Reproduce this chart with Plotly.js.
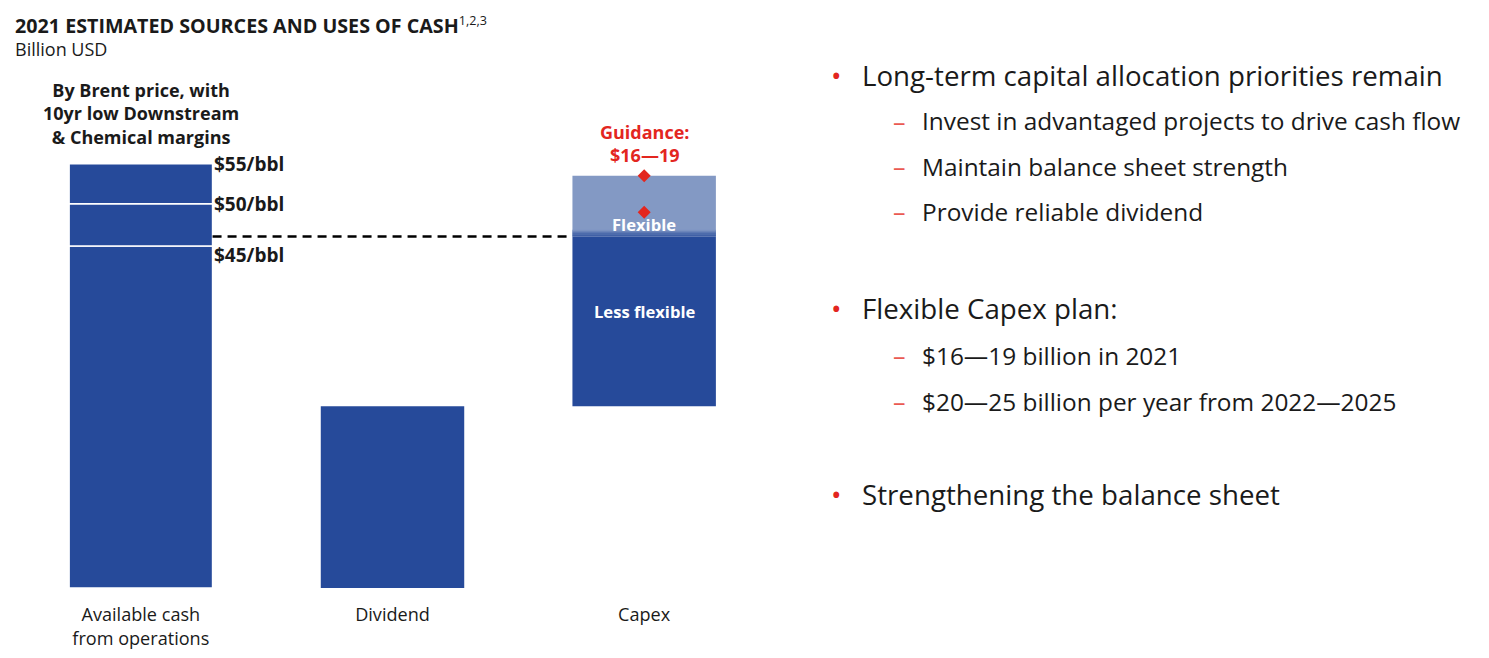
<!DOCTYPE html>
<html>
<head>
<meta charset="utf-8">
<script src="https://cdn.plot.ly/plotly-3.0.1.min.js"></script>
<style>
  html, body { margin: 0; padding: 0; background: #fff; }
  #chart { width: 1489px; height: 658px; }
</style>
</head>
<body>
<div id="chart"></div>
<script>
// ---- data ----
const categories = ['Available cash<br>from operations', 'Dividend', 'Capex'];
const cashLevels = [28.2, 31.7, 35.0];           // available cash at each Brent price
const priceLabels = ['$45/bbl', '$50/bbl', '$55/bbl'];
const dividend = [15.0];
const capexLessFlexible = [14.0];
const capexFlexible = [5.0];
const guidance = [16, 19];                       // capex guidance range
const bullets = [
  {text: 'Long-term capital allocation priorities remain', level: 0},
  {text: 'Invest in advantaged projects to drive cash flow', level: 1},
  {text: 'Maintain balance sheet strength', level: 1},
  {text: 'Provide reliable dividend', level: 1},
  {text: 'Flexible Capex plan:', level: 0},
  {text: '$16\u201419 billion in 2021', level: 1},
  {text: '$20\u201425 billion per year from 2022\u20142025', level: 1},
  {text: 'Strengthening the balance sheet', level: 0}
];
const bulletRows = [75, 121, 166, 211, 308, 355, 401, 494];

// ---- style ----
const BLUE = '#264a9a';
const LIGHT = '#8399c4';
const RED = '#e3261f';
const TXT = '#1a1a1a';
const FONT = '"Open Sans", "Noto Sans", sans-serif';
const BW = 0.57;

const W = 1489, H = 658;
const M = {l: 15, r: 719, t: 103, b: 70};
const PW = W - M.l - M.r, PH = H - M.t - M.b;
const px2x = px => (px - M.l) / PW;
const px2y = py => (H - M.b - py) / PH;

const traces = [];
// available cash stacked segments
cashLevels.forEach((lvl, i) => {
  const base = i === 0 ? 0 : cashLevels[i - 1];
  traces.push({
    type: 'bar', x: [categories[0]], y: [lvl - base], base: [base],
    width: BW, marker: {color: BLUE, line: {color: '#ffffff', width: 1.5}},
    hoverinfo: 'skip', showlegend: false
  });
});
// dividend
traces.push({
  type: 'bar', x: [categories[1]], y: dividend, base: [0], width: BW,
  marker: {color: BLUE, line: {width: 0}}, hoverinfo: 'skip', showlegend: false
});
// capex less flexible
traces.push({
  type: 'bar', x: [categories[2]], y: capexLessFlexible, base: [dividend[0]], width: BW,
  marker: {color: BLUE, line: {width: 0}}, hoverinfo: 'skip', showlegend: false
});
// capex flexible
traces.push({
  type: 'bar', x: [categories[2]], y: capexFlexible, base: [dividend[0] + capexLessFlexible[0]], width: BW,
  marker: {color: LIGHT, line: {width: 0}}, hoverinfo: 'skip', showlegend: false
});

const lessTop = dividend[0] + capexLessFlexible[0];

// soft gradient band at the bottom of the flexible part (layout decoration)
const shapes = [];
const hex = c => [1, 3, 5].map(i => parseInt(c.substr(i, 2), 16));
const c1 = hex(BLUE), c2 = hex(LIGHT);
const nBand = 6, bandH = 0.09;
for (let k = 0; k < nBand; k++) {
  const t = (k + 0.5) / nBand;
  const col = 'rgb(' + c1.map((v, j) => Math.round(v + (c2[j] - v) * t)).join(',') + ')';
  shapes.push({
    type: 'rect', xref: 'x', yref: 'y', layer: 'above',
    x0: 2 - BW / 2, x1: 2 + BW / 2, y0: lessTop + k * bandH, y1: lessTop + (k + 1) * bandH,
    fillcolor: col, line: {width: 0}
  });
}
shapes.push({
  type: 'line', xref: 'x', yref: 'y', x0: BW / 2, x1: 2 - BW / 2, y0: lessTop, y1: lessTop,
  line: {color: '#000000', width: 2.5, dash: '9px,6px'}
});

// guidance diamonds
traces.push({
  type: 'scatter', mode: 'markers', x: guidance.map(() => categories[2]),
  y: guidance.map(g => dividend[0] + g),
  marker: {symbol: 'diamond', size: 10, color: RED}, hoverinfo: 'skip', showlegend: false
});

const annotations = [];
// title + unit (one block so the lines keep their spacing)
annotations.push({
  xref: 'paper', yref: 'paper', x: px2x(13), y: px2y(36.5), xanchor: 'left', yanchor: 'middle',
  align: 'left',
  text: '<span style="font-size:19.7px"><b>2021 ESTIMATED SOURCES AND USES OF CASH</b></span><sup>1,2,3</sup><br>Billion USD',
  showarrow: false,
  font: {family: FONT, size: 18, color: TXT}
});
// header over first bar
annotations.push({
  xref: 'x', yref: 'paper', x: 0, y: px2y(113), xanchor: 'center', yanchor: 'middle',
  text: '<b>By Brent price, with<br>10yr low Downstream<br>&amp; Chemical margins</b>',
  showarrow: false, align: 'center', font: {family: FONT, size: 18, color: TXT}
});
// price labels
const priceShift = [-9, 0, 0];
cashLevels.forEach((lvl, i) => {
  annotations.push({
    xref: 'x', yref: 'y', x: BW / 2, y: lvl, xanchor: 'left', yanchor: 'middle',
    xshift: -1, yshift: priceShift[i],
    text: '<b>' + priceLabels[i] + '</b>', showarrow: false,
    font: {family: FONT, size: 19, color: TXT}
  });
});
// guidance label
annotations.push({
  xref: 'x', yref: 'paper', x: 2, y: px2y(143), xanchor: 'center', yanchor: 'middle',
  text: '<b>Guidance:<br>$' + guidance[0] + '\u2014' + guidance[1] + '</b>', showarrow: false,
  font: {family: FONT, size: 18, color: RED}
});
// flexible labels
annotations.push({
  xref: 'x', yref: 'y', x: 2, y: lessTop, xanchor: 'center', yanchor: 'bottom', yshift: -2,
  text: '<b>Flexible</b>', showarrow: false, font: {family: FONT, size: 16.6, color: '#ffffff'}
});
annotations.push({
  xref: 'x', yref: 'y', x: 2, y: dividend[0] + capexLessFlexible[0] / 2 + 0.8, xanchor: 'center', yanchor: 'middle',
  text: '<b>Less flexible</b>', showarrow: false, font: {family: FONT, size: 16.6, color: '#ffffff'}
});
// right-side bullets
bullets.forEach((b, i) => {
  const py = bulletRows[i];
  const markX = b.level === 0 ? 829 : 891;
  const textX = b.level === 0 ? 860 : 920;
  annotations.push({
    xref: 'paper', yref: 'paper', x: px2x(markX), y: px2y(py), xanchor: 'left', yanchor: 'middle',
    text: b.level === 0 ? '\u2022' : '\u2013', showarrow: false,
    font: {family: FONT, size: b.level === 0 ? 28 : 25, color: b.level === 0 ? RED : '#ea5a52'}
  });
  annotations.push({
    xref: 'paper', yref: 'paper', x: px2x(textX), y: px2y(py), xanchor: 'left', yanchor: 'middle',
    text: b.text, showarrow: false,
    font: {family: FONT, size: b.level === 0 ? 27.7 : 24.4, color: TXT}
  });
});

const layout = {
  width: W, height: H,
  margin: M,
  paper_bgcolor: '#ffffff', plot_bgcolor: '#ffffff',
  barmode: 'overlay',
  showlegend: false,
  font: {family: FONT, color: TXT},
  xaxis: {
    type: 'category', categoryorder: 'array', categoryarray: categories,
    range: [-0.5, 2.5], showgrid: false, zeroline: false, showline: false,
    ticks: '', ticklabelstandoff: 14,
    tickfont: {family: FONT, size: 18.1, color: TXT}, fixedrange: true
  },
  yaxis: {
    range: [0, 40], showgrid: false, zeroline: false, showline: false,
    showticklabels: false, ticks: '', fixedrange: true
  },
  annotations: annotations,
  shapes: shapes
};

Plotly.newPlot('chart', traces, layout, {displayModeBar: false, staticPlot: true});
</script>
</body>
</html>
